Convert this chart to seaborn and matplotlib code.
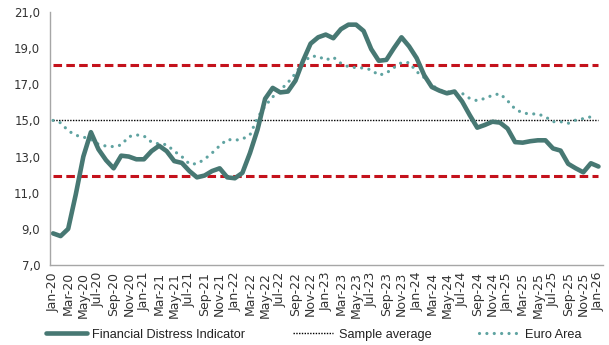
import numpy as np
import pandas as pd
import matplotlib
matplotlib.use("Agg")
import matplotlib.pyplot as plt
from matplotlib.lines import Line2D
from matplotlib.ticker import FuncFormatter
import seaborn as sns

# Monthly observations, Jan-20 .. Jan-26
months = pd.date_range("2020-01-01", periods=73, freq="MS")
month_labels = [d.strftime("%b-%y") for d in months]

fdi = [8.75, 8.6, 9.0, 10.9, 13.0, 14.35, 13.4, 12.8, 12.35, 13.05,
       13.0, 12.85, 12.85, 13.3, 13.6, 13.3, 12.75, 12.65, 12.2, 11.85,
       11.95, 12.2, 12.35, 11.85, 11.8, 12.1, 13.2, 14.5, 16.2, 16.8,
       16.55, 16.6, 17.2, 18.3, 19.25, 19.6, 19.75, 19.55, 20.05, 20.3,
       20.3, 19.95, 18.95, 18.3, 18.35, 19.0, 19.6, 19.1, 18.45, 17.5,
       16.85, 16.65, 16.5, 16.6, 16.05, 15.3, 14.6, 14.75, 14.93, 14.88,
       14.55, 13.8, 13.77, 13.85, 13.9, 13.9, 13.45, 13.33, 12.6, 12.35,
       12.13, 12.63, 12.45]

euro_area = [15.0, 14.87, 14.43, 14.18, 14.08, 13.95, 13.68, 13.58, 13.55, 13.64,
             14.1, 14.2, 14.14, 13.8, 13.7, 13.66, 13.3, 13.0, 12.59, 12.6,
             12.85, 13.2, 13.6, 13.95, 13.9, 13.97, 14.2, 15.15, 15.8, 16.3,
             16.68, 17.09, 17.6, 18.2, 18.55, 18.55, 18.34, 18.5, 18.16, 17.97,
             17.92, 17.9, 17.8, 17.5, 17.62, 17.92, 18.2, 18.2, 17.7, 17.37,
             16.96, 16.68, 16.59, 16.53, 16.5, 16.22, 16.09, 16.22, 16.39, 16.48,
             16.09, 15.63, 15.41, 15.36, 15.36, 15.2, 14.93, 14.93, 14.84, 15.02,
             15.1, 15.2, np.nan]

sample_average = 15.0
upper_band = 18.09
lower_band = 11.91

df = pd.DataFrame({
    "t": np.arange(len(months)),
    "fdi": fdi,
    "euro": euro_area,
    "avg": [sample_average] * len(months),
    "upper": [upper_band] * len(months),
    "lower": [lower_band] * len(months),
})

sns.set_style("white")
plt.rcParams["font.family"] = ["DejaVu Sans"]

C_FDI = "#477873"
C_EURO = "#5fa3a1"
C_RED = "#c4121c"

fig = plt.figure(figsize=(6.09, 3.45), dpi=100)
ax = fig.add_axes([50 / 609, 1 - 265 / 345, 553 / 609, 253 / 345])

red_kw = dict(color=C_RED, linewidth=2.2, dashes=(2.8, 1.4), dash_capstyle="butt")
sns.lineplot(data=df, x="t", y="upper", ax=ax, **red_kw)
sns.lineplot(data=df, x="t", y="lower", ax=ax, **red_kw)
sns.lineplot(data=df, x="t", y="avg", ax=ax, color="black", linewidth=1.0,
             dashes=(1, 1))
sns.lineplot(data=df, x="t", y="euro", ax=ax, color=C_EURO, linewidth=2.3,
             dashes=(0.01, 2.3), dash_capstyle="round")
sns.lineplot(data=df, x="t", y="fdi", ax=ax, color=C_FDI, linewidth=3.3,
             solid_joinstyle="round")

ax.set_xlim(-0.4, 72.6)
ax.set_ylim(7, 21)
ax.set_yticks(np.arange(7, 21.1, 2))
ax.yaxis.set_major_formatter(FuncFormatter(lambda v, p: f"{v:.1f}".replace(".", ",")))
tick_pos = list(range(0, len(months), 2))
ax.set_xticks(tick_pos)
ax.set_xticklabels([month_labels[i] for i in tick_pos], rotation=90)
ax.set_xlabel("")
ax.set_ylabel("")

for side in ("top", "right"):
    ax.spines[side].set_visible(False)
for side in ("left", "bottom"):
    ax.spines[side].set_color("#a6a6a6")
    ax.spines[side].set_linewidth(1.0)

ax.tick_params(axis="y", which="major", direction="out", length=4, width=1,
               color="#a6a6a6", labelsize=8.4, labelcolor="#333333", pad=3)
ax.tick_params(axis="x", which="major", length=0, labelsize=9.0,
               labelcolor="#333333", pad=5)

handles = [
    Line2D([], [], color=C_FDI, linewidth=3.3),
    Line2D([], [], color="black", linewidth=1.0, dashes=(1, 1)),
    Line2D([], [], color=C_EURO, linewidth=2.3, dashes=(0.01, 2.3),
           dash_capstyle="round"),
]
labels = ["Financial Distress Indicator", "Sample average", "Euro Area"]
fig.legend(handles, labels, loc="center", bbox_to_anchor=(0.515, 0.03),
           ncol=3, frameon=False, handlelength=3.2, handletextpad=0.4,
           columnspacing=3.7, prop={"family": "Liberation Sans", "size": 9.2},
           labelcolor="#222222")

fig.savefig("out.png", dpi=100)
